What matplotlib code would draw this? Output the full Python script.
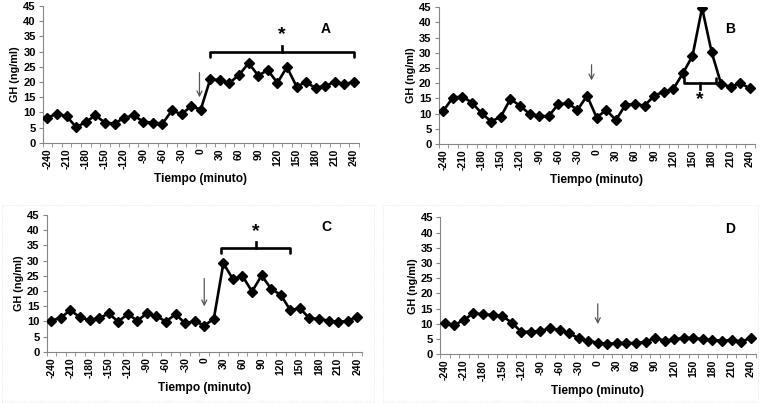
import numpy as np
import matplotlib
matplotlib.use("Agg")
import matplotlib.pyplot as plt
from matplotlib.patches import Rectangle

plt.rcParams['font.family'] = ['Liberation Sans', 'DejaVu Sans']

# sampling times (minutes), one point every 15 min
tiempo = list(range(-240, 241, 15))
tick_labels = [str(t) for t in range(-240, 241, 30)]

gh_a = [8.2, 9.6, 8.7, 5.1, 6.8, 9.0, 6.6, 6.3, 8.2, 9.0, 6.9, 6.6, 6.3, 10.6, 9.4, 12.0, 10.9,
        21.0, 20.5, 19.7, 22.3, 26.2, 22.1, 23.9, 19.7, 24.9, 18.5, 19.9, 18.0, 18.8, 19.9, 19.3, 20.0]
gh_b = [10.9, 15.3, 15.6, 13.6, 10.1, 7.4, 9.0, 14.8, 12.6, 9.9, 9.2, 9.2, 13.1, 13.4, 11.2, 15.9, 8.7,
        11.2, 7.9, 12.8, 13.2, 12.6, 15.9, 17.2, 18.1, 23.3, 29.0, 44.8, 30.2, 19.6, 18.9, 20.0, 18.3]
gh_c = [10.2, 11.2, 13.7, 11.3, 10.4, 11.0, 12.6, 9.9, 12.4, 10.2, 12.6, 11.7, 9.9, 12.4, 9.3, 10.1, 8.6,
        10.8, 29.1, 23.9, 24.9, 19.8, 25.1, 20.7, 18.7, 13.7, 14.3, 11.0, 10.8, 10.2, 9.7, 10.2, 11.5]
gh_d = [10.2, 9.6, 11.3, 13.5, 13.1, 12.9, 12.6, 10.4, 7.4, 7.4, 7.7, 8.5, 8.0, 6.9, 5.3, 4.4, 3.8,
        3.4, 3.7, 3.8, 3.6, 4.2, 5.3, 4.5, 4.9, 5.4, 5.4, 4.9, 4.7, 4.5, 4.7, 4.2, 5.3]

panel_names = ['A', 'B', 'C', 'D']
# arrow (x, y_from, y_to) marking the stimulus
arrows = {'A': (-2, 24, 14), 'B': (-8, 27, 20), 'C': (0, 25, 14), 'D': (0, 17.5, 9)}
# significance brackets (x0, x1, y, opens_down)
brackets = {'A': (15, 240, 30, True), 'B': (137, 187, 20, False), 'C': (27, 135, 34.2, True)}

W, H = 760, 403
fig = plt.figure(figsize=(W / 100, H / 100), dpi=100)

# axes boxes in pixels: left, right, top, bottom
boxes = {'A': (42.7, 358.8, 6, 142.7), 'B': (438.5, 754.8, 7.3, 144),
         'C': (46.5, 362, 215, 351.7), 'D': (440, 755.5, 217.3, 354.3)}
label_pos = {'A': (195, 37.5), 'B': (209, 38), 'C': (192, 41), 'D': (207, 41)}

gray = '#868686'
for name, data in zip(panel_names, [gh_a, gh_b, gh_c, gh_d]):
    l, r, t, b = boxes[name]
    ax = fig.add_axes([l / W, 1 - b / H, (r - l) / W, (b - t) / H])
    ax.plot(tiempo, data, color='black', lw=1.9, marker='D', ms=5, zorder=3)
    ax.set_xlim(-247.5, 247.5)
    ax.set_ylim(0, 45)
    ax.set_yticks(range(0, 46, 5))
    ax.set_xticks(range(-240, 241, 30))
    ax.set_xticklabels(tick_labels, rotation=90, va='top', ha='center')
    ax.set_xticks(np.arange(-247.5, 248, 15), minor=True)
    ax.tick_params(axis='x', which='major', length=0, pad=4, labelsize=7.5)
    ax.tick_params(axis='x', which='minor', length=3, color=gray, direction='out')
    ax.tick_params(axis='y', length=3, color=gray, labelsize=8, pad=2)
    for lab in ax.get_xticklabels() + ax.get_yticklabels():
        lab.set_fontweight('bold')
    for s in ['top', 'right']:
        ax.spines[s].set_visible(False)
    for s in ['left', 'bottom']:
        ax.spines[s].set_color(gray)
        ax.spines[s].set_linewidth(0.8)
    ax.set_ylabel('GH (ng/ml)', fontsize=7.8, fontweight='bold', labelpad=2)
    ax.set_xlabel('Tiempo (minuto)', fontsize=8.6, fontweight='bold', labelpad=3)
    ax.text(*label_pos[name], name, fontsize=10, fontweight='bold', ha='center', va='center')

    xa, y0, y1 = arrows[name]
    ax.annotate('', xy=(xa, y1), xytext=(xa, y0),
                arrowprops=dict(arrowstyle='->', color='#555555', lw=0.9, mutation_scale=9))

    if name in brackets:
        x0, x1, yb, down = brackets[name]
        tip = -1.8 if down else 1.6
        mid = (x0 + x1) / 2
        ax.plot([x0, x0, x1, x1], [yb + tip, yb, yb, yb + tip], color='black', lw=1.9,
                solid_joinstyle='round', solid_capstyle='round')
        ax.plot([mid, mid], [yb, yb - tip * 1.1], color='black', lw=1.9)
        ystar = yb + 5.5 if down else yb - 5.5
        ax.text(mid, ystar, '*', fontsize=14, fontweight='bold', ha='center', va='center')

# faint dotted chart-area borders for the lower panels
for x0, y0, x1, y1 in [(2, 205, 374, 402), (383, 205, 758, 402)]:
    fig.patches.append(Rectangle((x0 / W, 1 - y1 / H), (x1 - x0) / W, (y1 - y0) / H,
                                 transform=fig.transFigure, fill=False, ec='#e0e0e0',
                                 lw=0.6, ls=':'))

fig.savefig('out.png', dpi=100)
